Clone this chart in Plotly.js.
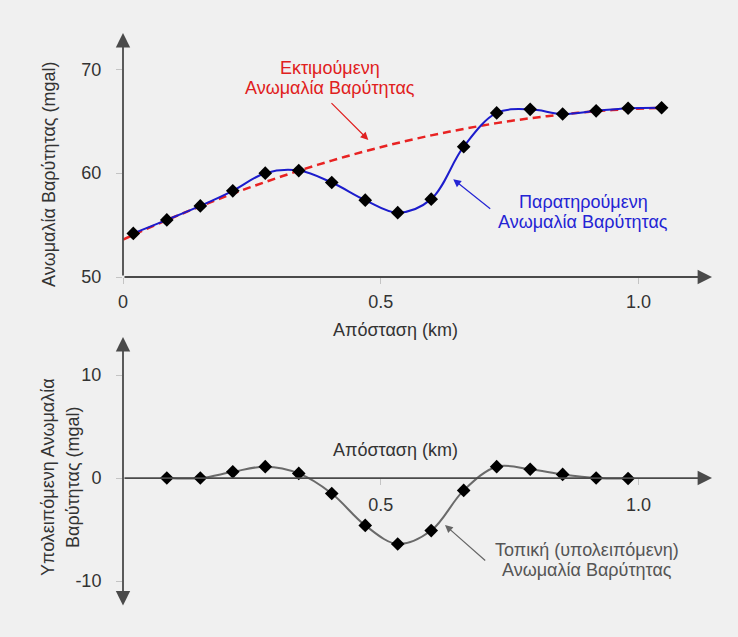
<!DOCTYPE html>
<html>
<head>
<meta charset="utf-8">
<script src="https://cdn.plot.ly/plotly-3.0.1.min.js"></script>
<style>html,body{margin:0;padding:0;background:#f0f0f0;}#chart{width:738px;height:637px;}</style>
</head>
<body>
<div id="chart"></div>
<script>
// ---- data ----
const xObserved = [0.02,0.085,0.15,0.213,0.276,0.341,0.405,0.47,0.533,0.598,0.661,0.725,0.79,0.853,0.918,0.98,1.045];
const observed  = [54.2,55.5,56.85,58.3,60.0,60.25,59.1,57.4,56.2,57.5,62.55,65.8,66.15,65.7,66.0,66.25,66.3];
const xRegional = [0,0.02,0.085,0.15,0.213,0.276,0.341,0.405,0.47,0.533,0.598,0.661,0.725,0.79,0.853,0.918,0.98,1.045];
const regional  = [53.6,54.06,55.48,56.81,58.02,59.15,60.23,61.21,62.11,62.91,63.64,64.26,64.82,65.29,65.66,65.97,66.17,66.3];
const xResidual = [0.085,0.15,0.213,0.276,0.341,0.405,0.47,0.533,0.598,0.661,0.725,0.79,0.853,0.918,0.98];
const residual  = [0.0,0.0,0.6,1.1,0.45,-1.5,-4.6,-6.4,-5.1,-1.2,1.1,0.85,0.35,0.0,-0.05];
const xTickVals1 = [0,0.5,1], xTickText1 = ['0','0.5','1.0'];
const xTickVals2 = [0.5,1], xTickText2 = ['0.5','1.0'];
const yTickVals1 = [50,60,70], yTickText1 = ['50','60','70'];
const yTickVals2 = [-10,0,10], yTickText2 = ['-10','0','10'];

// ---- layout helpers (pixel -> paper) ----
const W = 738, H = 637;
const px = v => v / W, py = v => 1 - v / H;
const FONT = 'Liberation Sans, Arial, sans-serif';
const TXT = '#333333';
const AX = '#4a4a4a';

const xRange = [0, 1.1428];
const y1Range = [50, 73.5];
const y2Range = [-12.52, 13.69];

const traces = [
  {x: xRegional, y: regional, xaxis:'x', yaxis:'y', mode:'lines', line:{color:'#e82222', width:2.5, dash:'8px,5px', shape:'spline'}, hoverinfo:'skip'},
  {x: xObserved, y: observed, xaxis:'x', yaxis:'y', mode:'lines', line:{color:'#1c1ccc', width:2, shape:'spline', smoothing:1}, hoverinfo:'skip'},
  {x: xObserved, y: observed, xaxis:'x', yaxis:'y', mode:'markers', marker:{symbol:'diamond', size:10.5, color:'#000'}, hoverinfo:'skip'},
  {x: xResidual, y: residual, xaxis:'x2', yaxis:'y2', mode:'lines', line:{color:'#6a6a6a', width:2, shape:'spline', smoothing:1}, hoverinfo:'skip'},
  {x: xResidual, y: residual, xaxis:'x2', yaxis:'y2', mode:'markers', marker:{symbol:'diamond', size:10.5, color:'#000'}, hoverinfo:'skip'}
];

const axCommon = {showgrid:false, zeroline:false, showline:false, automargin:false, ticks:'outside', ticklen:6, tickcolor:'#c4c4c4', tickfont:{family:FONT, size:18, color:TXT}, fixedrange:true};

function arrow(x, y, ax, ay, xref, yref, both){
  const a = {x:x, y:y, ax:ax, ay:ay, xref:xref, yref:yref, axref:xref, ayref:yref, text:'', showarrow:true,
    arrowhead:2, arrowsize:1.6, arrowwidth:1.8, arrowcolor:AX, standoff:0};
  if (both){ a.arrowside = 'end+start'; a.startarrowhead = 2; a.startarrowsize = 1.6; a.startstandoff = 0; }
  return a;
}
function label(text, x, y, color, angle){
  return {x:px(x), y:py(y), xref:'paper', yref:'paper', text:text, showarrow:false, xanchor:'center', yanchor:'middle',
    textangle: angle || 0, font:{family:FONT, size:18, color:color}};
}
function pointer(xh, yh, xt, yt, color, xref, yref){
  return {x:xh, y:yh, ax:xt, ay:yt, xref:xref, yref:yref, axref:xref, ayref:yref, text:'', showarrow:true,
    arrowhead:2, arrowsize:1.3, arrowwidth:1.2, arrowcolor:color, standoff:0};
}

const layout = {
  width: W, height: H,
  margin:{l:0,r:0,t:0,b:0},
  paper_bgcolor:'#f0f0f0', plot_bgcolor:'#f0f0f0',
  showlegend:false,
  xaxis: Object.assign({}, axCommon, {domain:[px(123), px(712)], range:xRange, anchor:'y', tickvals:xTickVals1, ticktext:xTickText1, ticklabelstandoff:2}),
  yaxis: Object.assign({}, axCommon, {domain:[py(277), py(33)], range:y1Range, anchor:'x', tickvals:yTickVals1, ticktext:yTickText1, ticklabelstandoff:11}),
  xaxis2: Object.assign({}, axCommon, {domain:[px(123), px(712)], range:xRange, anchor:'free', position:py(478), tickvals:xTickVals2, ticktext:xTickText2, ticklabelstandoff:4}),
  yaxis2: Object.assign({}, axCommon, {domain:[py(607), py(337)], range:y2Range, anchor:'x2', tickvals:yTickVals2, ticktext:yTickText2, ticklabelstandoff:11}),
  annotations: [
    // axes with arrow heads
    arrow(xRange[1], y1Range[0], 0, y1Range[0], 'x', 'y'),
    arrow(0, y1Range[1], 0, y1Range[0], 'x', 'y'),
    arrow(xRange[1], 0, 0, 0, 'x2', 'y2'),
    arrow(0, y2Range[1], 0, y2Range[0], 'x2', 'y2', true),
    // axis titles
    label('Απόσταση (km)', 395, 330, TXT),
    label('Απόσταση (km)', 395, 450, TXT),
    label('Ανωμαλία Βαρύτητας (mgal)', 49, 175, TXT, -90),
    label('Υπολειπόμενη Ανωμαλία', 48, 477, TXT, -90),
    label('Βαρύτητας (mgal)', 73, 477, TXT, -90),
    // curve labels
    label('Εκτιμούμενη', 330, 68, '#e02020'),
    label('Ανωμαλία Βαρύτητας', 330, 88, '#e02020'),
    label('Παρατηρούμενη', 583, 202, '#2424d4'),
    label('Ανωμαλία Βαρύτητας', 583, 222, '#2424d4'),
    label('Τοπική (υπολειπόμενη)', 587, 550, '#555555'),
    label('Ανωμαλία Βαρύτητας', 587, 570, '#555555'),
    // pointers
    pointer(0.476, 63.2, 0.4016, 66.89, '#e02020', 'x', 'y'),
    pointer(0.6407, 59.41, 0.7154, 56.45, '#2424d4', 'x', 'y'),
    pointer(0.6247, -4.56, 0.7057, -8.13, '#666666', 'x2', 'y2')
  ]
};

Plotly.newPlot('chart', traces, layout, {staticPlot:true, displayModeBar:false});
</script>
</body>
</html>
